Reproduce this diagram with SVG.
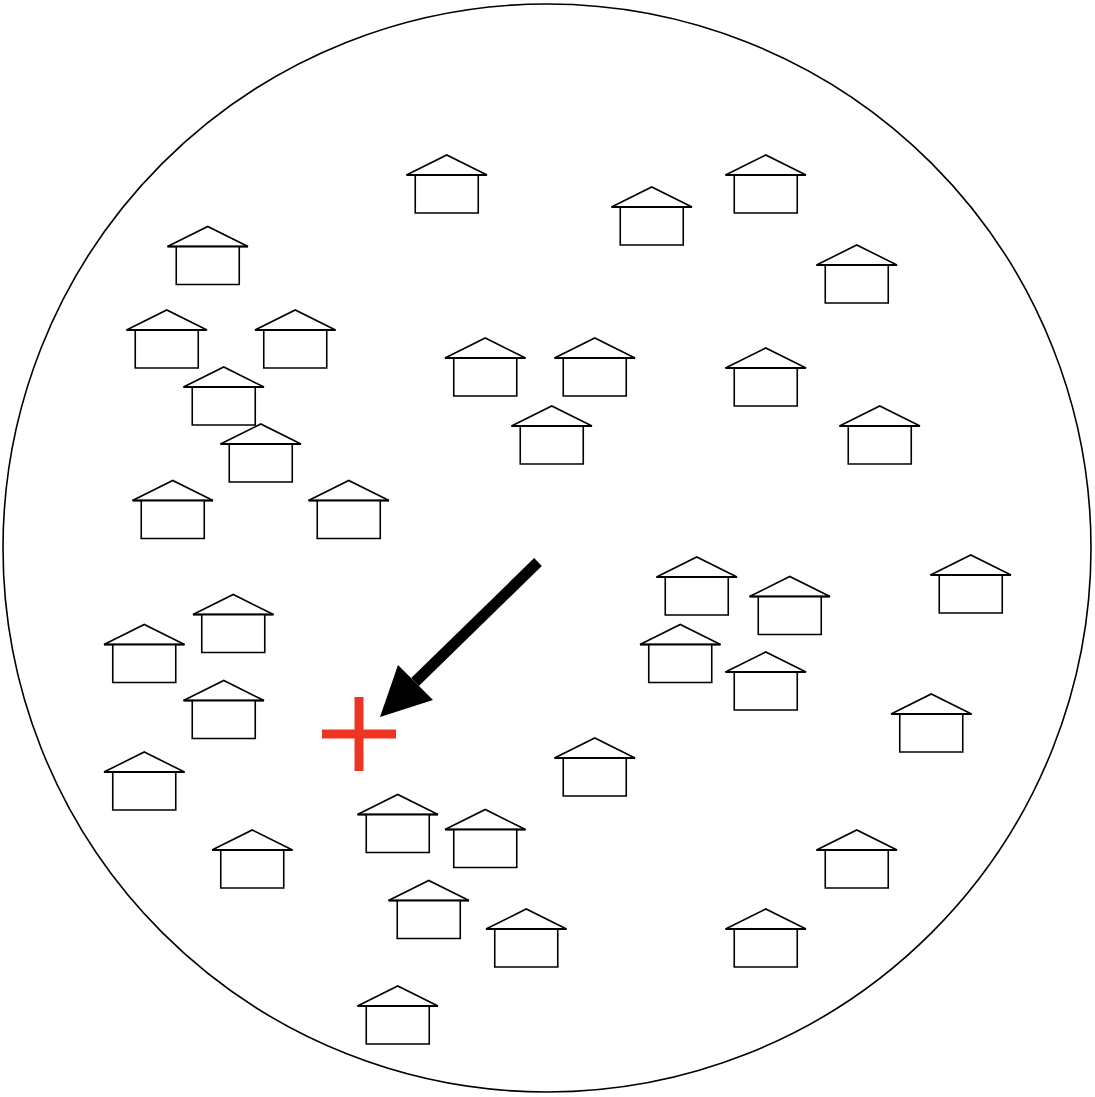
<svg xmlns="http://www.w3.org/2000/svg" width="1095" height="1097" viewBox="0 0 1095 1097">
<style>
.h{fill:#fff;stroke:#000;stroke-width:1.6;stroke-linejoin:miter}
.b{fill:none;stroke:#000;stroke-width:2}
</style>
<defs>
<g id="house"><path class="h" d="M-40.500 20L-0.250 0L40 20Z"/><path class="h" d="M-31.750 20V58H31.250V20"/><path class="b" d="M-40.500 20H40"/></g>
</defs>
<rect width="1095" height="1097" fill="#fff"/>
<circle id="boundary" cx="547" cy="548" r="544" fill="#fff" stroke="#000" stroke-width="1.6"/>
<g id="houses">
<g id="h1" transform="translate(447 155)"><use href="#house"/></g>
<g id="h2" transform="translate(652 187)"><use href="#house"/></g>
<g id="h3" transform="translate(766 155)"><use href="#house"/></g>
<g id="h4" transform="translate(857 245)"><use href="#house"/></g>
<g id="h5" transform="translate(208 226.500)"><use href="#house"/></g>
<g id="h6" transform="translate(167 310)"><use href="#house"/></g>
<g id="h7" transform="translate(295.500 310)"><use href="#house"/></g>
<g id="h8" transform="translate(224 367)"><use href="#house"/></g>
<g id="h9" transform="translate(261 424)"><use href="#house"/></g>
<g id="h10" transform="translate(173 480.500)"><use href="#house"/></g>
<g id="h11" transform="translate(349 480.500)"><use href="#house"/></g>
<g id="h12" transform="translate(485.500 338)"><use href="#house"/></g>
<g id="h13" transform="translate(595 338)"><use href="#house"/></g>
<g id="h14" transform="translate(766 348)"><use href="#house"/></g>
<g id="h15" transform="translate(552 406)"><use href="#house"/></g>
<g id="h16" transform="translate(880 406)"><use href="#house"/></g>
<g id="h17" transform="translate(697 557)"><use href="#house"/></g>
<g id="h18" transform="translate(790 576.500)"><use href="#house"/></g>
<g id="h19" transform="translate(971 555)"><use href="#house"/></g>
<g id="h20" transform="translate(680.500 624.500)"><use href="#house"/></g>
<g id="h21" transform="translate(766 652)"><use href="#house"/></g>
<g id="h22" transform="translate(931.500 694)"><use href="#house"/></g>
<g id="h23" transform="translate(233.500 594.500)"><use href="#house"/></g>
<g id="h24" transform="translate(144.500 624.500)"><use href="#house"/></g>
<g id="h25" transform="translate(224 680.500)"><use href="#house"/></g>
<g id="h26" transform="translate(144.500 752)"><use href="#house"/></g>
<g id="h27" transform="translate(595 738)"><use href="#house"/></g>
<g id="h28" transform="translate(398 794.500)"><use href="#house"/></g>
<g id="h29" transform="translate(485.500 809.500)"><use href="#house"/></g>
<g id="h30" transform="translate(252.500 830)"><use href="#house"/></g>
<g id="h31" transform="translate(857 830)"><use href="#house"/></g>
<g id="h32" transform="translate(429 880.500)"><use href="#house"/></g>
<g id="h33" transform="translate(526.500 909)"><use href="#house"/></g>
<g id="h34" transform="translate(766 909)"><use href="#house"/></g>
<g id="h35" transform="translate(398 986)"><use href="#house"/></g>
</g>
<g id="connectors">
<path d="M538 562L415 682" fill="none" stroke="#000" stroke-width="11"/>
<path d="M380 717L398 665L433 700Z" fill="#000"/>
</g>
<g id="cross" fill="none" stroke="#ee3524" stroke-width="9">
<path d="M322 734H396"/>
<path d="M359 697V771"/>
</g>
</svg>
